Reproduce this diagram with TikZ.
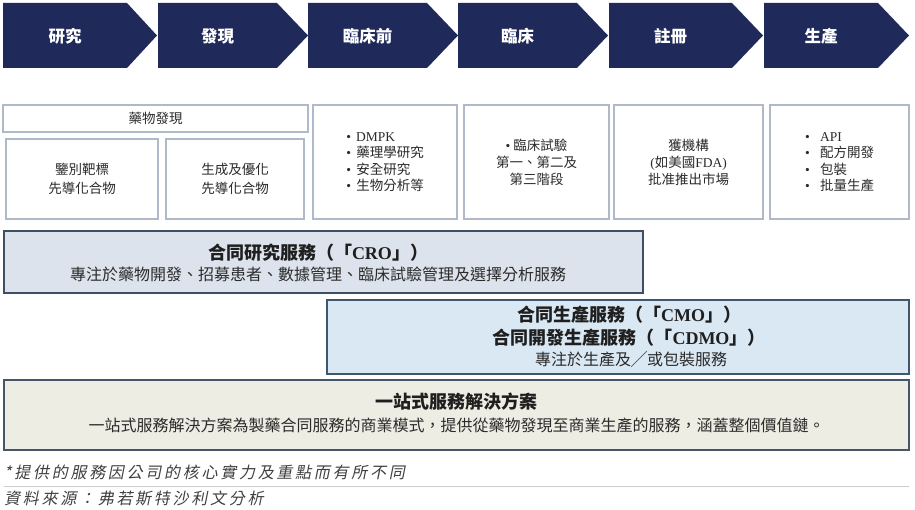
\documentclass[tikz,border=0pt]{standalone}
\usepackage{fontspec}
\setmainfont{Liberation Serif}
\newfontfamily\cjk{Noto Sans CJK TC}
\newfontfamily\cjkit{Noto Sans CJK TC}[FakeSlant=0.2,LetterSpace=17]
\definecolor{navy}{HTML}{1F2A5A}
\definecolor{boxline}{HTML}{B0B9C7}
\definecolor{txt}{HTML}{2B2B2B}
\definecolor{foottxt}{HTML}{404040}
\definecolor{crofill}{HTML}{DCE3EC}
\definecolor{croline}{HTML}{3E4E63}
\definecolor{cmofill}{HTML}{DAE8F4}
\definecolor{cmoline}{HTML}{3E566E}
\definecolor{onefill}{HTML}{EDEDE3}
\definecolor{oneline}{HTML}{46566A}
\definecolor{rulegray}{HTML}{CCCCCC}
\begin{document}
\begin{tikzpicture}[x=1pt,y=-1pt,
  chev/.style={fill=navy},
  chevtxt/.style={text=white,font=\cjk\bfseries\fontsize{16.5}{16.5}\selectfont,inner sep=0pt},
  sbox/.style={draw=boxline,line width=1.4pt,fill=white,inner sep=0pt},
  btxt/.style={sbox,text=txt,font=\cjk\fontsize{13.5}{19}\selectfont,align=center},
  ctxt/.style={sbox,text=txt,font=\cjk\fontsize{13.5}{17}\selectfont,align=center},
  ltxt/.style={sbox,text=txt,font=\cjk\fontsize{13.5}{16.5}\selectfont,align=left},
  bigbox/.style={line width=1.8pt,inner sep=0pt},
  ttl/.style={text=black!88,font=\cjk\bfseries\fontsize{18}{18}\selectfont,inner sep=0pt},
  subt/.style={text=txt,font=\cjk\fontsize{16}{16}\selectfont,inner sep=0pt},
  foot/.style={text=foottxt,font=\cjkit\fontsize{16}{16}\selectfont,inner sep=0pt,anchor=west},
]
\useasboundingbox (0,0) rectangle (915,510);
% chevrons
\foreach \a/\b/\c/\t/\n in {3/127/157/研究/c1,158/277/308/發現/c2,308/427/458/臨床前/c3,458/577/608/臨床/c4,609/732/763/註冊/c5,764/878/909/生產/c6}{
  \fill[chev] (\a,3) -- (\b,3) -- (\c,35.5) -- (\b,68) -- (\a,68) -- cycle;
  \node[chevtxt] (\n) at ({(\a+\b)/2},36) {\t};
}
% small boxes
\node[btxt,minimum width=305pt,minimum height=27pt] (b0) at (155.5,118.5) {藥物發現};
\node[btxt,minimum width=152pt,minimum height=80pt] (b1) at (82,179) {鑒別靶標\\先導化合物};
\node[btxt,minimum width=138pt,minimum height=80pt] (b2) at (235,179) {生成及優化\\先導化合物};
\node[ltxt,minimum width=144pt,minimum height=114pt] (b3) at (385,162) {\makebox[10pt][l]{\textrm{•}}\textrm{DMPK}\\\makebox[10pt][l]{\textrm{•}}藥理學研究\\\makebox[10pt][l]{\textrm{•}}安全研究\\\makebox[10pt][l]{\textrm{•}}生物分析等};
\node[ctxt,minimum width=145pt,minimum height=114pt] (b4) at (536.5,162) {\textrm{•} 臨床試驗\\第一、第二及\\第三階段};
\node[ctxt,minimum width=149pt,minimum height=114pt] (b5) at (688.5,162) {獲機構\\\textrm{(}如美國\textrm{FDA)}\\批准推出市場};
\node[ltxt,minimum width=139pt,minimum height=114pt] (b6) at (839.5,162) {\makebox[15pt][l]{\textrm{•}}\textrm{API}\\\makebox[15pt][l]{\textrm{•}}配方開發\\\makebox[15pt][l]{\textrm{•}}包裝\\\makebox[15pt][l]{\textrm{•}}批量生產};
% CRO
\node[bigbox,draw=croline,fill=crofill,minimum width=639pt,minimum height=62pt] (cro) at (323.5,262) {};
\node[ttl] (crot) at (318,252.5) {合同研究服務（「\textrm{CRO}」）};
\node[subt] (cros) at (318,274) {專注於藥物開發、招募患者、數據管理、臨床試驗管理及選擇分析服務};
% CMO
\node[bigbox,draw=cmoline,fill=cmofill,minimum width=582pt,minimum height=74pt] (cmo) at (618,337) {};
\node[ttl] (cmot1) at (629,315) {合同生產服務（「\textrm{CMO}」）};
\node[ttl] (cmot2) at (629,338) {合同開發生產服務（「\textrm{CDMO}」）};
\node[subt] (cmos) at (631,359) {專注於生產及╱或包裝服務};
% one-stop
\node[bigbox,draw=oneline,fill=onefill,minimum width=905pt,minimum height=70pt] (one) at (456.5,415) {};
\node[ttl] (onet) at (456.5,402) {一站式服務解決方案};
\node[subt] (ones) at (456.5,425) {一站式服務解決方案為製藥合同服務的商業模式，提供從藥物發現至商業生產的服務，涵蓋整個價值鏈。};
% footnotes
\node[foot] (fn1) at (4,472) {*提供的服務因公司的核心實力及重點而有所不同};
\coordinate (r1) at (4,486);
\coordinate (r2) at (909,486);
\draw[rulegray,line width=1pt] (r1) -- (r2);
\node[foot] (fn2) at (4,498) {資料來源：弗若斯特沙利文分析};
\end{tikzpicture}
\end{document}
